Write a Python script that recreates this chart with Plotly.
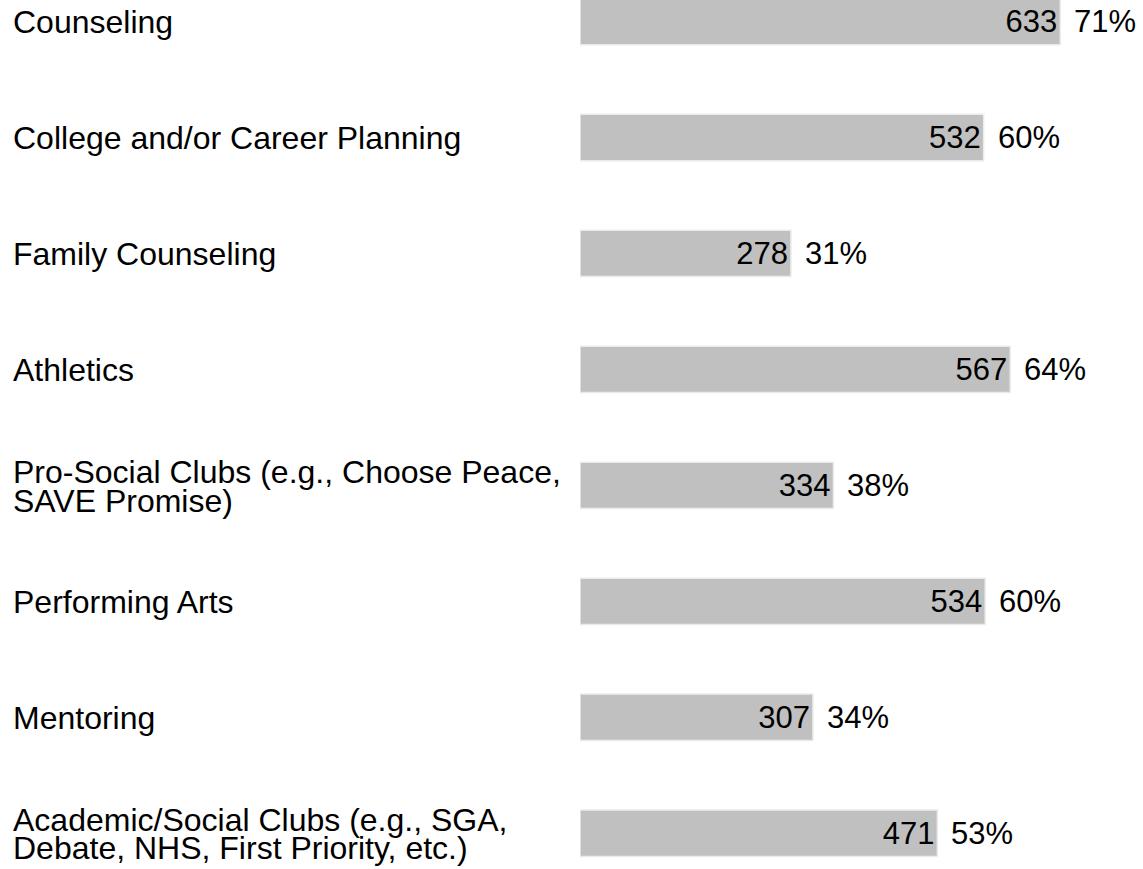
import plotly.graph_objects as go

categories = [
    "Counseling",
    "College and/or Career Planning",
    "Family Counseling",
    "Athletics",
    "Pro-Social Clubs (e.g., Choose Peace,<br>SAVE Promise)",
    "Performing Arts",
    "Mentoring",
    "Academic/Social Clubs (e.g., SGA,<br>Debate, NHS, First Priority, etc.)",
]
counts = [633, 532, 278, 567, 334, 534, 307, 471]
percents = [71, 60, 31, 64, 38, 60, 34, 53]

FONT = "Arial, 'Liberation Sans', sans-serif"
W, H = 1143, 869
LEFT = 579.5
LINE_SP = 28.3

fig = go.Figure()
fig.add_trace(go.Bar(
    x=counts,
    y=categories,
    orientation="h",
    marker=dict(color="#C0C0C0", line=dict(color="#EBEBEB", width=1.5)),
    text=[str(c) for c in counts],
    textposition="inside",
    insidetextanchor="end",
    constraintext="none",
    textfont=dict(family=FONT, size=31, color="black"),
    cliponaxis=False,
    hoverinfo="skip",
))

annotations = []
for cat, c, p in zip(categories, counts, percents):
    # percentage label just outside bar end
    annotations.append(dict(
        x=c, y=cat, xref="x", yref="y", text=f"{p}%", showarrow=False,
        xanchor="left", yanchor="middle", xshift=12, yshift=0,
        font=dict(family=FONT, size=31, color="black"),
    ))
    # category label on the left
    lines = cat.split("<br>")
    n = len(lines)
    for i, line in enumerate(lines):
        shift = ((n - 1) / 2 - i) * LINE_SP
        annotations.append(dict(
            x=(10 - LEFT) / (W - LEFT), y=cat, xref="paper", yref="y",
            text=line, showarrow=False, xanchor="left", yanchor="middle",
            yshift=shift - 1, align="left",
            font=dict(family=FONT, size=32, color="black"),
        ))

fig.update_layout(
    width=W, height=H,
    margin=dict(l=LEFT, r=0, t=0, b=0),
    paper_bgcolor="white", plot_bgcolor="white",
    bargap=0.6,
    showlegend=False,
    annotations=annotations,
    xaxis=dict(range=[0, 742], visible=False, fixedrange=True),
    yaxis=dict(range=[7.308, -0.185], visible=False, fixedrange=True),
)

fig.write_html(
    "out.html",
    config={"displayModeBar": False},
    post_script="document.body.style.margin='0';document.body.style.overflow='hidden';",
)
